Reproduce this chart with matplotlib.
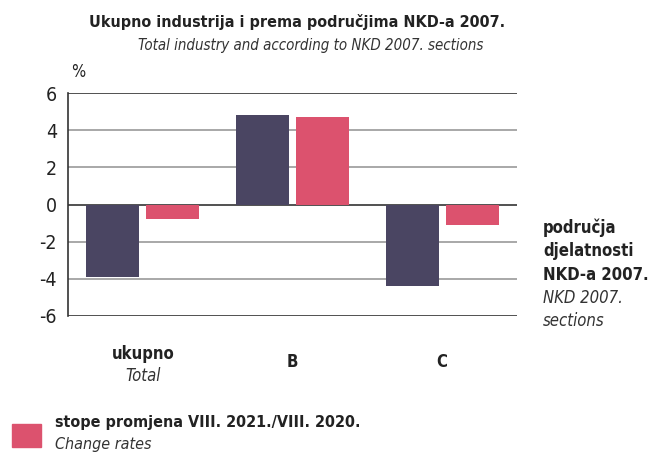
import matplotlib
matplotlib.use("Agg")
from matplotlib import pyplot as plt
import numpy as np

plt.rcParams['font.family'] = ['DejaVu Sans']
plt.rcParams['font.stretch'] = 'condensed'

# data
categories = ['ukupno', 'B', 'C']
categories_en = ['Total', '', '']
prev_rates = [-3.9, 4.8, -4.4]
change_rates = [-0.8, 4.7, -1.1]
yticks = [6, 4, 2, 0, -2, -4, -6]

dark = '#4a4562'
pink = '#dc526e'

fig = plt.figure(figsize=(6.49, 4.54), dpi=100)
ax = fig.add_axes([0.1048, 0.304, 0.6918, 0.491])

x = np.arange(len(categories))
w = 0.355
ax.bar(x - 0.2, prev_rates, width=w, color=dark, zorder=3)
ax.bar(x + 0.2, change_rates, width=w, color=pink, zorder=3)

ax.set_xlim(-0.5, 2.5)
ax.set_ylim(-6, 6)
ax.set_yticks(yticks)
ax.set_yticklabels([str(t) for t in yticks], fontsize=14, color='#222222')
ax.tick_params(axis='y', length=0, pad=8)
ax.set_xticks([])

for t in yticks:
    c = '#333333' if t in (0, 6, -6) else '#999999'
    ax.axhline(t, color=c, linewidth=1.2, zorder=2)

for s in ['top', 'right', 'bottom']:
    ax.spines[s].set_visible(False)
ax.spines['left'].set_color('#333333')
ax.spines['left'].set_linewidth(1.2)

# titles
fig.text(0.458, 0.951, 'Ukupno industrija i prema područjima NKD-a 2007.',
         ha='center', va='center', fontsize=11.5, fontweight='bold', color='#222222')
fig.text(0.478, 0.899, 'Total industry and according to NKD 2007. sections',
         ha='center', va='center', fontsize=10.8, style='italic', color='#333333')
fig.text(0.12, 0.841, '%', ha='center', va='center', fontsize=12, color='#222222')

# category labels
for i, (hr, en) in enumerate(zip(categories, categories_en)):
    xf = (0.1048 + 0.6918 * (i + 0.5) / 3)
    if en:
        fig.text(xf, 1 - 354 / 454, hr, ha='center', va='center', fontsize=12,
                 fontweight='bold', color='#222222')
        fig.text(xf, 1 - 376 / 454, en, ha='center', va='center', fontsize=12,
                 style='italic', color='#333333')
    else:
        fig.text(xf, 1 - 362 / 454, hr, ha='center', va='center', fontsize=12,
                 fontweight='bold', color='#222222')

# right axis caption
rx = 543 / 649
for j, line in enumerate(['područja', 'djelatnosti', 'NKD-a 2007.']):
    fig.text(rx, 1 - (228 + j * 23.5) / 454, line, ha='left', va='center',
             fontsize=12, fontweight='bold', color='#222222')
for j, line in enumerate(['NKD 2007.', 'sections']):
    fig.text(rx, 1 - (298 + j * 23) / 454, line, ha='left', va='center',
             fontsize=12, style='italic', color='#333333')

# legend
fig.patches.append(plt.Rectangle((12 / 649, 1 - 447 / 454), 29 / 649, 23 / 454,
                                 transform=fig.transFigure, color=pink))
fig.text(55 / 649, 1 - 422 / 454, 'stope promjena VIII. 2021./VIII. 2020.',
         ha='left', va='center', fontsize=11.5, fontweight='bold', color='#222222')
fig.text(55 / 649, 1 - 445 / 454, 'Change rates', ha='left', va='center',
         fontsize=11.5, style='italic', color='#333333')

plt.savefig('out.png', dpi=100)
